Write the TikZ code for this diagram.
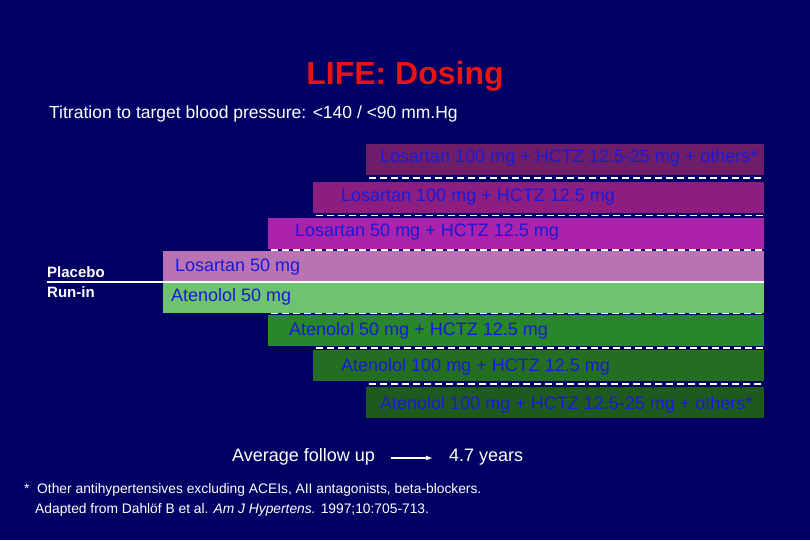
\documentclass[tikz,border=0pt]{standalone}
\usepackage{fontspec}
\setmainfont{Liberation Sans}
\usetikzlibrary{arrows.meta}
\begin{document}
\begin{tikzpicture}[x=1pt,y=-1pt,
  lbl/.style={anchor=west,text=txtblue,font=\fontsize{18}{20}\selectfont,inner sep=0pt},
  dsh/.style={white,line width=1.5pt,dash pattern=on 7pt off 4pt},
  wtxt/.style={text=white,inner sep=0pt,anchor=west}]
\definecolor{bg}{RGB}{0,0,100}
\definecolor{txtblue}{RGB}{25,25,215}
\definecolor{cA}{RGB}{110,30,105}
\definecolor{cB}{RGB}{140,30,130}
\definecolor{cC}{RGB}{170,35,170}
\definecolor{cD}{RGB}{185,115,180}
\definecolor{cE}{RGB}{110,195,110}
\definecolor{cF}{RGB}{40,135,40}
\definecolor{cG}{RGB}{35,110,35}
\definecolor{cH}{RGB}{30,90,30}
\definecolor{titlered}{RGB}{230,20,20}
\fill[bg] (0,0) rectangle (810,540);
\useasboundingbox (0,0) rectangle (810,540);
\node[text=titlered,font=\bfseries\fontsize{32}{36}\selectfont] (title) at (405,76) {LIFE: Dosing};
\node[wtxt,font=\fontsize{17.5}{20}\selectfont] (sub) at (49,114) {Titration to target blood pressure: <140 / <90 mm.Hg};
% bars
\fill[cA] (366,144) rectangle (764,175);
\fill[cB] (313,182) rectangle (764,213);
\fill[cC] (268,218) rectangle (764,249);
\fill[cD] (163,251) rectangle (764,282);
\fill[cE] (163,282) rectangle (764,313);
\fill[cF] (268,315) rectangle (764,346);
\fill[cG] (313,350) rectangle (764,381);
\fill[cH] (366,387) rectangle (764,418);
\coordinate (d1a) at (369,178); \coordinate (d1b) at (764,178);
\coordinate (d2a) at (316,215.5); \coordinate (d2b) at (764,215.5);
\coordinate (d3a) at (271,250); \coordinate (d3b) at (764,250);
\coordinate (d5a) at (271,313.5); \coordinate (d5b) at (764,313.5);
\coordinate (d6a) at (316,348); \coordinate (d6b) at (764,348);
\coordinate (d7a) at (369,384); \coordinate (d7b) at (764,384);
\foreach \i in {1,2,3,5,6,7} \draw[dsh] (d\i a) -- (d\i b);
\coordinate (pl) at (47,282); \coordinate (pr) at (764,282);
\draw[white,line width=1.5pt] (pl) -- (pr);
\node[lbl] (l1) at (380,158) {Losartan 100 mg + HCTZ 12.5-25 mg + others*};
\node[lbl] (l2) at (341,197) {Losartan 100 mg + HCTZ 12.5 mg};
\node[lbl] (l3) at (295,232) {Losartan 50 mg + HCTZ 12.5 mg};
\node[lbl] (l4) at (175,267) {Losartan 50 mg};
\node[lbl] (l5) at (171,297) {Atenolol 50 mg};
\node[lbl] (l6) at (289,331) {Atenolol 50 mg + HCTZ 12.5 mg};
\node[lbl] (l7) at (341,367) {Atenolol 100 mg + HCTZ 12.5 mg};
\node[lbl] (l8) at (380,405) {Atenolol 100 mg + HCTZ 12.5-25 mg + others*};
\node[wtxt,font=\bfseries\fontsize{15}{17}\selectfont] (pb) at (47,272) {Placebo};
\node[wtxt,font=\bfseries\fontsize{15}{17}\selectfont] (ri) at (47,292) {Run-in};
\node[wtxt,font=\fontsize{18}{21}\selectfont] (avg) at (232,457) {Average follow up};
\node[wtxt,font=\fontsize{18}{21}\selectfont] (yrs) at (449,457) {4.7 years};
\coordinate (aa) at (391,458); \coordinate (ab) at (433,458);
\draw[white,line width=1.3pt,-{Latex[length=7pt,width=5pt]}] (aa) -- (ab);
\node[wtxt,font=\fontsize{13.8}{16}\selectfont] (fn1) at (24,490) {*\ \ Other antihypertensives excluding ACEIs, AII antagonists, beta-blockers.};
\node[wtxt,font=\fontsize{13.8}{16}\selectfont] (fn2) at (35,510) {Adapted from Dahlöf B et al. \textit{Am J Hypertens.} 1997;10:705-713.};
\end{tikzpicture}
\end{document}
